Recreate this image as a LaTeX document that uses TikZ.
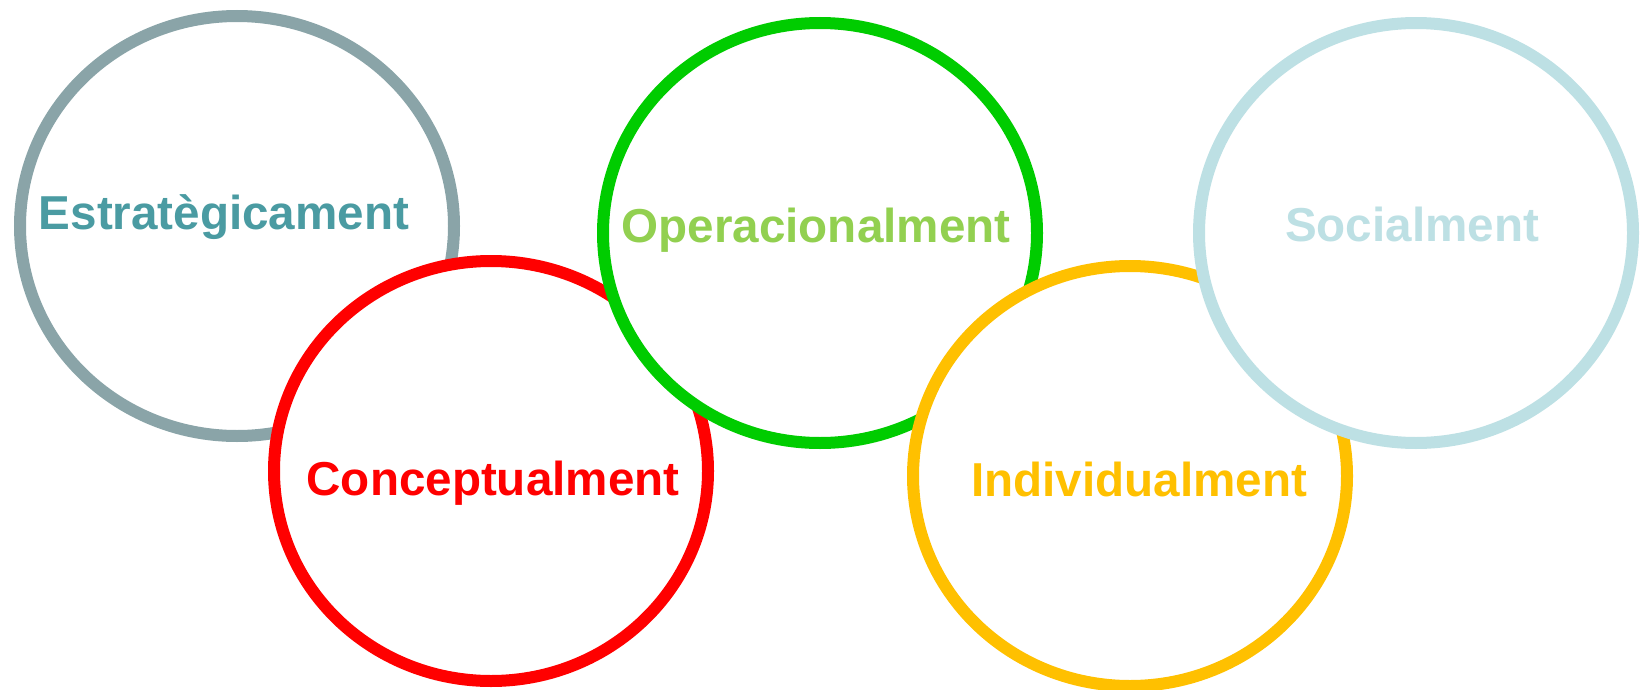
\documentclass[tikz,border=0pt]{standalone}
\usepackage{fontspec}
\setmainfont{Liberation Sans}
\usetikzlibrary{shapes.geometric}

\definecolor{grayring}{HTML}{8AA4A8}
\definecolor{tealtext}{HTML}{4A9BA2}
\definecolor{redring}{HTML}{FF0000}
\definecolor{greenring}{HTML}{00CC00}
\definecolor{greentext}{HTML}{92D050}
\definecolor{yellowring}{HTML}{FFC000}
\definecolor{bluering}{HTML}{BDE0E4}

\tikzset{
  ring/.style={ellipse, draw=#1, fill=white, line width=6pt, inner sep=0pt,
    minimum width=217pt, minimum height=210pt},
  lbl/.style={font=\bfseries\fontsize{23.8}{28}\selectfont, text=#1}
}

\begin{document}
\begin{tikzpicture}[x=0.5pt, y=-0.5pt]
  \useasboundingbox (0,0) rectangle (1648,690);
  \node[ring=grayring] (estr) at (237,226) {};
  \node[lbl=tealtext] (estrtxt) at (224,217) {Estratègicament};
  \node[ring=redring] (conc) at (491,471) {};
  \node[lbl=redring] (conctxt) at (493,483) {Conceptualment};
  \node[ring=greenring] (oper) at (820,233) {};
  \node[lbl=greentext] (opertxt) at (816,230) {Operacionalment};
  \node[ring=yellowring] (indi) at (1130,476) {};
  \node[lbl=yellowring] (inditxt) at (1139,479) {Individualment};
  \node[ring=bluering] (soci) at (1416,233) {};
  \node[lbl=bluering] (socitxt) at (1412,224) {Socialment};
\end{tikzpicture}
\end{document}
